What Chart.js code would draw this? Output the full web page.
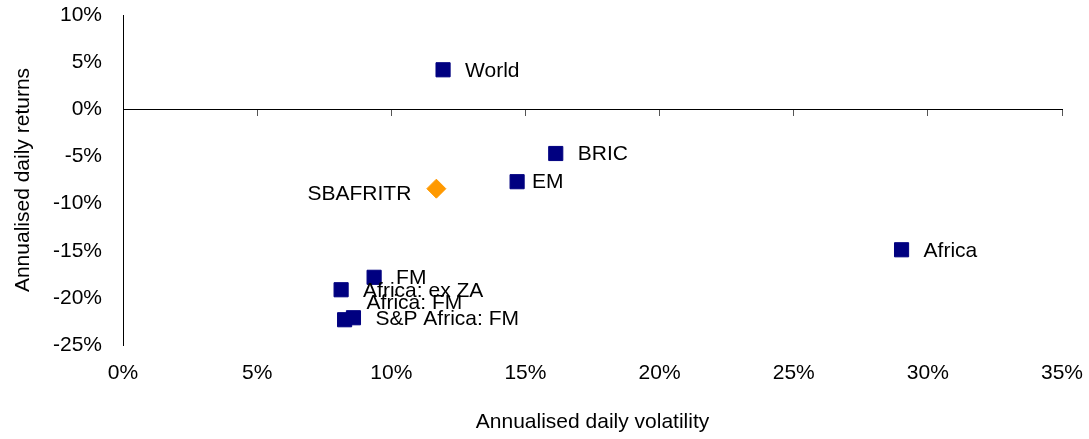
<!DOCTYPE html>
<html>
  <body style="margin: 0; background: #fff">
    <div style="width: 1089px; height: 439px">
      <canvas id="riskChart"></canvas>
    </div>

    <script src="https://cdn.jsdelivr.net/npm/chart.js"></script>

    <script>
      // volatility (x, %) and returns (y, %)
      const indexNames = ["World", "BRIC", "EM", "Africa", "FM", "Africa: ex ZA", "Africa: FM", "S&P Africa: FM"];
      const indexVol = [11.93, 16.13, 14.69, 29.02, 9.36, 8.13, 8.26, 8.59];
      const indexRet = [4.19, -4.69, -7.68, -14.9, -17.82, -19.14, -22.32, -22.11];

      const benchName = ["SBAFRITR"];
      const benchVol = [11.68];
      const benchRet = [-8.42];

      const xTicks = [0, 5, 10, 15, 20, 25, 30, 35];
      const yTicks = [-25, -20, -15, -10, -5, 0, 5, 10];

      const FONT = "'Liberation Sans', Arial, sans-serif";

      // where each label sits relative to its marker
      const labelPos = {
        "EM": { dx: 15, dy: 0 },
        "Africa: FM": { dx: 22, dy: -18 },
        "SBAFRITR": { dx: -25, dy: 5, align: "right" },
      };

      const pointLabels = {
        id: "pointLabels",
        afterDatasetsDraw(chart) {
          const c = chart.ctx;
          c.save();
          c.font = "21px " + FONT;
          c.fillStyle = "#000";
          c.textBaseline = "middle";
          chart.data.datasets.forEach((ds, i) => {
            chart.getDatasetMeta(i).data.forEach((el, j) => {
              const name = ds.names[j];
              const p = labelPos[name] || { dx: 22, dy: 0 };
              c.textAlign = p.align || "left";
              c.fillText(name, el.x + p.dx, el.y + p.dy + 1);
            });
          });
          c.restore();
        },
      };

      const pct = (v) => v + "%";
      const noPad = (s) => { s.paddingTop = 0; s.paddingBottom = 0; s.paddingLeft = 0; s.paddingRight = 0; };

      new Chart(document.getElementById("riskChart"), {
        type: "scatter",
        data: {
          datasets: [
            {
              names: indexNames,
              data: indexVol.map((v, i) => ({ x: v, y: indexRet[i] })),
              backgroundColor: "#000080",
              borderColor: "#000080",
              borderWidth: 1,
              pointStyle: "rect",
              pointRadius: 10,
            },
            {
              names: benchName,
              data: benchVol.map((v, i) => ({ x: v, y: benchRet[i] })),
              backgroundColor: "#FF9900",
              borderColor: "#FF9900",
              borderWidth: 1,
              pointStyle: "rectRot",
              pointRadius: 9.5,
            },
          ],
        },
        options: {
          responsive: true,
          maintainAspectRatio: false,
          animation: false,
          layout: { padding: { top: 15, right: 27, left: 0, bottom: 0 } },
          plugins: {
            legend: { display: false },
            tooltip: { enabled: false },
          },
          scales: {
            x: {
              type: "linear",
              position: "bottom",
              min: 0,
              max: 35,
              afterBuildTicks: (s) => { s.ticks = xTicks.map((v) => ({ value: v })); },
              grid: { display: false },
              border: { display: false },
              ticks: { color: "#000", font: { family: FONT, size: 21 }, padding: 8, callback: pct },
              title: {
                display: true,
                text: "Annualised daily volatility",
                color: "#000",
                font: { family: FONT, size: 21 },
                padding: { top: 0, bottom: 4 },
              },
              afterFit: (s) => { s.height = 94; noPad(s); },
            },
            x0: {
              type: "linear",
              position: { y: 0 },
              min: 0,
              max: 35,
              afterBuildTicks: (s) => { s.ticks = xTicks.map((v) => ({ value: v })); },
              grid: { display: true, drawOnChartArea: false, drawTicks: true, tickLength: 6, color: "#555" },
              border: { display: true, color: "#000", width: 1 },
              ticks: { display: false },
              afterFit: (s) => { s.height = 0; noPad(s); },
            },
            y: {
              type: "linear",
              position: "left",
              min: -25,
              max: 10,
              afterBuildTicks: (s) => { s.ticks = yTicks.map((v) => ({ value: v })); },
              grid: { display: true, drawOnChartArea: false, drawTicks: false },
              border: { display: true, color: "#000", width: 1 },
              ticks: { color: "#000", font: { family: FONT, size: 21 }, padding: 21, callback: pct },
              title: {
                display: true,
                text: "Annualised daily returns",
                color: "#000",
                font: { family: FONT, size: 21 },
                padding: { top: 11, bottom: 0 },
              },
              afterFit: (s) => { s.width = 123; noPad(s); },
            },
          },
        },
        plugins: [pointLabels],
      });
    </script>
  </body>
</html>
